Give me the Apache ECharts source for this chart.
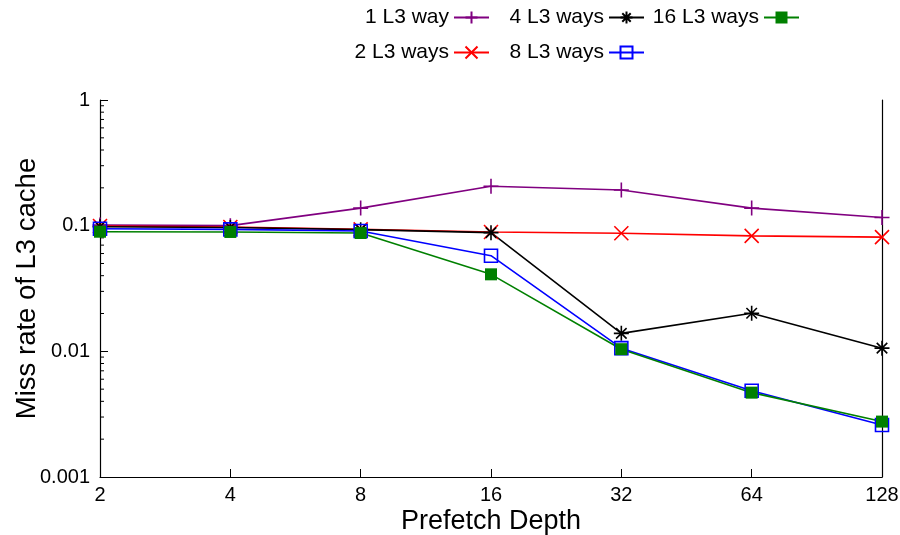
<!DOCTYPE html>
<html>
<head>
<meta charset="utf-8">
<script src="https://cdn.jsdelivr.net/npm/echarts@6/dist/echarts.min.js"></script>
<style>
  html, body { margin: 0; padding: 0; background: #fff; }
  #chart { width: 900px; height: 535px; }
</style>
</head>
<body>
<div id="chart"></div>
<script>
// Prefetch depth on the x axis (evenly spaced powers of two)
const depths = ['2', '4', '8', '16', '32', '64', '128'];

// L3 miss rate per configuration
const way1  = [0.101, 0.100, 0.138, 0.206, 0.192, 0.138, 0.116];
const way2  = [0.0994, 0.0976, 0.0935, 0.089, 0.087, 0.083, 0.081];
const way4  = [0.098, 0.0967, 0.093, 0.088, 0.0139, 0.0201, 0.0106];
const way8  = [0.0946, 0.0934, 0.0908, 0.0577, 0.0106, 0.00486, 0.00259];
const way16 = [0.0895, 0.0891, 0.0874, 0.041, 0.0104, 0.00469, 0.00276];

const seriesNames = ['1 L3 way', '2 L3 ways', '4 L3 ways', '8 L3 ways', '16 L3 ways'];

// Decade labels of the logarithmic y axis
const yTickLabels = { 1: '1', 0.1: '0.1', 0.01: '0.01', 0.001: '0.001' };

// Minor tick values between decades (2..9 x 10^k)
const minorTickValues = [];
[0.001, 0.01, 0.1].forEach(function (d) {
  for (let m = 2; m <= 9; m++) minorTickValues.push(+(m * d).toPrecision(3));
});

const FONT = 'Liberation Sans, Arial, Helvetica, sans-serif';

const PLUS  = 'path://M0,5H10M5,0V10';
const CROSS = 'path://M0,0L10,10M10,0L0,10';
const STAR  = 'path://M0,5H10M5,0V10M1.5,1.5L8.5,8.5M8.5,1.5L1.5,8.5';
const BOX   = 'path://M0,0H10V10H0Z';

function lineSeries(name, data, color, symbol, size, filled) {
  return {
    name: name,
    type: 'line',
    data: data,
    clip: false,
    symbol: symbol,
    symbolSize: size,
    showAllSymbol: true,
    lineStyle: { color: color, width: 1.6 },
    itemStyle: filled
      ? { color: color, borderColor: color, borderWidth: 0 }
      : { color: 'rgba(0,0,0,0)', borderColor: color, borderWidth: 1.6 },
    emphasis: { disabled: true },
    animation: false
  };
}

function legendItem(name, right, top) {
  return {
    data: [name],
    right: right,
    top: top,
    padding: 0,
    align: 'right',
    itemWidth: 35,
    itemHeight: 15,
    selectedMode: false,
    textStyle: { fontFamily: FONT, fontSize: 21, color: '#000' }
  };
}

const chart = echarts.init(document.getElementById('chart'), null, { renderer: 'canvas' });

chart.setOption({
  backgroundColor: '#fff',
  animation: false,
  legend: [
    legendItem(seriesNames[0], 410, 7),
    legendItem(seriesNames[2], 255, 7),
    legendItem(seriesNames[4], 100, 7),
    legendItem(seriesNames[1], 410, 42),
    legendItem(seriesNames[3], 255, 42)
  ],
  grid: {
    left: 100, right: 18, top: 100, bottom: 58,
    containLabel: false,
    outerBoundsMode: 'none'
  },
  xAxis: {
    type: 'category',
    data: depths,
    boundaryGap: false,
    name: 'Prefetch Depth',
    nameLocation: 'middle',
    nameGap: 31,
    nameMoveOverlap: false,
    nameTextStyle: { fontFamily: FONT, fontSize: 27, color: '#000' },
    axisLine: { lineStyle: { color: '#000', width: 1.2 } },
    axisTick: { inside: true, length: 8, alignWithLabel: true, lineStyle: { color: '#000' } },
    axisLabel: { margin: 8, fontFamily: FONT, fontSize: 20, color: '#000' },
    splitLine: { show: false }
  },
  yAxis: [
    {
      type: 'log',
      logBase: 10,
      min: 0.001,
      max: 1,
      interval: 1,
      name: 'Miss rate of L3 cache',
      nameLocation: 'middle',
      nameGap: 59,
      nameMoveOverlap: false,
      nameRotate: 90,
      nameTextStyle: { fontFamily: FONT, fontSize: 27.5, color: '#000' },
      axisLine: { show: true, lineStyle: { color: '#000', width: 1.2 } },
      axisTick: { show: true, inside: true, length: 8, lineStyle: { color: '#000' } },
      axisLabel: {
        margin: 10,
        fontFamily: FONT,
        fontSize: 20,
        color: '#000',
        formatter: function (v) {
          const key = +(+v).toPrecision(3);
          return yTickLabels[key] !== undefined ? yTickLabels[key] : '';
        }
      },
      splitLine: { show: false }
    },
    {
      type: 'log',
      logBase: 10,
      min: 0.001,
      max: 1,
      position: 'right',
      axisLine: { show: true, lineStyle: { color: '#000', width: 1.2 } },
      axisTick: { show: false },
      axisLabel: { show: false },
      splitLine: { show: false }
    }
  ],
  series: [
    lineSeries(seriesNames[0], way1, '#800080', PLUS, 15, false),
    lineSeries(seriesNames[1], way2, '#ff0000', CROSS, 14, false),
    lineSeries(seriesNames[2], way4, '#000000', STAR, 15, false),
    lineSeries(seriesNames[3], way8, '#0000ff', BOX, 13, false),
    lineSeries(seriesNames[4], way16, '#008000', 'rect', 12, true),
    {
      // short inside ticks for the intermediate log values on the left axis
      type: 'custom',
      name: 'minorTicks',
      silent: true,
      animation: false,
      clip: false,
      data: minorTickValues.map(function (v) { return [0, v]; }),
      renderItem: function (params, api) {
        const p = api.coord([0, api.value(1)]);
        const x0 = params.coordSys.x;
        return {
          type: 'line',
          shape: { x1: x0, y1: p[1], x2: x0 + 4, y2: p[1] },
          style: { stroke: '#000', lineWidth: 1 }
        };
      },
      z: 1
    }
  ]
});
</script>
</body>
</html>
